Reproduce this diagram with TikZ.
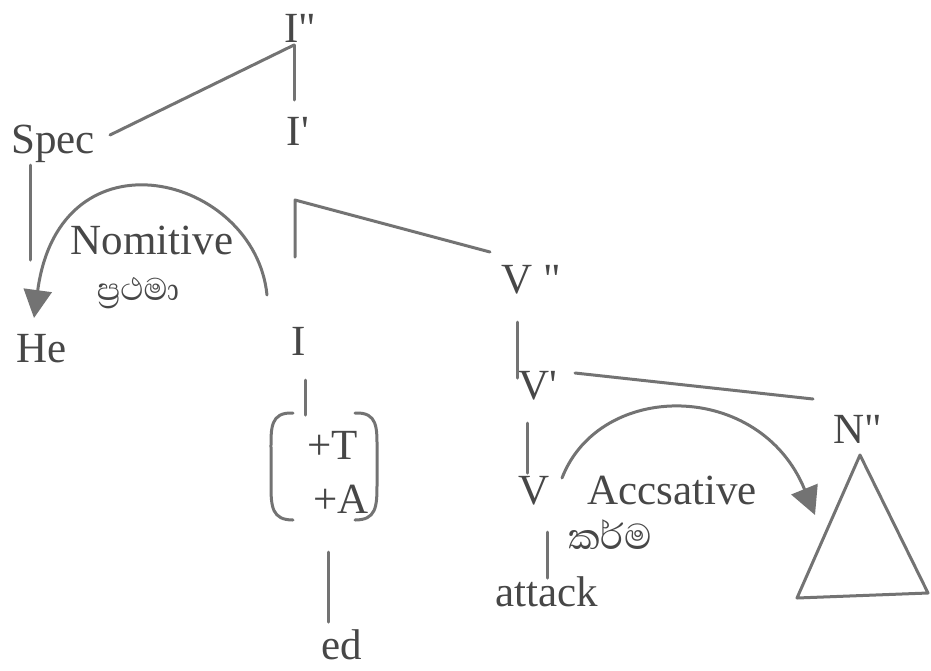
\documentclass[tikz,border=0pt]{standalone}
\usepackage{fontspec}
\newfontfamily\labfont{Liberation Serif}
\newfontfamily\sinfont[Script=Sinhala]{Abhaya Libre}
\usetikzlibrary{arrows.meta}
\definecolor{inkline}{rgb}{0.45,0.45,0.45}
\definecolor{inktext}{rgb}{0.28,0.28,0.28}
\tikzset{
  lab/.style={inner sep=0pt, text=inktext, font=\labfont\fontsize{43}{48}\selectfont},
  sinlab/.style={inner sep=0pt, text=inktext, font=\sinfont\fontsize{40}{46}\selectfont},
  branch/.style={draw=inkline, line width=3pt, line cap=round, line join=round},
  casearrow/.style={branch, -{Triangle[length=28pt,width=28pt]}},
}
\begin{document}
\begin{tikzpicture}[x=1pt,y=-1pt]
\useasboundingbox (0,0) rectangle (931,670);
% labels
\node[lab] (Ipp) at (300,28) {I"};
\node[lab] (Ip) at (298,131) {I'};
\node[lab] (Spec) at (53,144) {Spec};
\node[lab] (He) at (42,349) {He};
\node[lab] (I) at (299,341) {I};
\node[lab] (Vpp) at (531,280) {V "};
\node[lab] (Vp) at (538,386) {V'};
\node[lab] (Npp) at (858,429) {N"};
\node[lab] (V) at (534,491) {V};
\node[lab] (attack) at (547,592) {attack};
\node[lab] (plusT) at (333,445) {+T};
\node[lab] (plusA) at (341,499) {+A};
\node[lab] (ed) at (342,645) {ed};
\node[lab] (nom) at (152,240) {Nomitive};
\node[sinlab] (nomsi) at (138,293) {ප්^^^^200dරථමා};
\node[sinlab, font=\sinfont\fontsize{46}{52}\selectfont] (accsi) at (610,535) {කර්ම};
\node[lab] (acc) at (672,490) {Accsative};
% end points
\coordinate (specR) at (110,135);
\coordinate (ippJ) at (294,45);
\coordinate (ippB) at (294,100);
\coordinate (specB) at (30,165);
\coordinate (specE) at (30,260);
\coordinate (ipB) at (295,257);
\coordinate (ipT) at (295,200);
\coordinate (ipR) at (490,252);
\coordinate (vppT) at (517,322);
\coordinate (vppB) at (517,378);
\coordinate (vpR) at (575,373);
\coordinate (nppL) at (813,399);
\coordinate (vpT) at (527,423);
\coordinate (vpB) at (527,473);
\coordinate (vB) at (547,532);
\coordinate (attT) at (547,578);
\coordinate (iT) at (305,380);
\coordinate (iB) at (305,415);
\coordinate (edT) at (328,552);
\coordinate (edB) at (328,622);
\coordinate (triA) at (860,455);
\coordinate (triL) at (797,598);
\coordinate (triR) at (928,593);
\coordinate (nomS) at (267,295);
\coordinate (nomE) at (34,318);
\coordinate (accS) at (562,478);
\coordinate (accE) at (815,515);
% branches
\draw[branch] (specR) -- (ippJ);
\draw[branch] (ippJ) -- (ippB);
\draw[branch] (specB) -- (specE);
\draw[branch] (ipB) -- (ipT) -- (ipR);
\draw[branch] (vppT) -- (vppB);
\draw[branch] (vpR) -- (nppL);
\draw[branch] (vpT) -- (vpB);
\draw[branch] (vB) -- (attT);
\draw[branch] (iT) -- (iB);
\draw[branch] (edT) -- (edB);
\draw[branch] (triA) -- (triL) -- (triR) -- cycle;
% feature brackets
\draw[branch] (293,413) .. controls (270,412) and (271,428) .. (271,450) -- (271,485) .. controls (271,507) and (272,520) .. (293,520);
\draw[branch] (355,413) .. controls (378,412) and (377,428) .. (377,450) -- (377,485) .. controls (377,507) and (376,520) .. (355,520);
% case arrows
\draw[casearrow] (nomS) .. controls (255,175) and (60,125) .. (nomE);
\draw[casearrow] (accS) .. controls (600,380) and (760,380) .. (accE);
\end{tikzpicture}
\end{document}
